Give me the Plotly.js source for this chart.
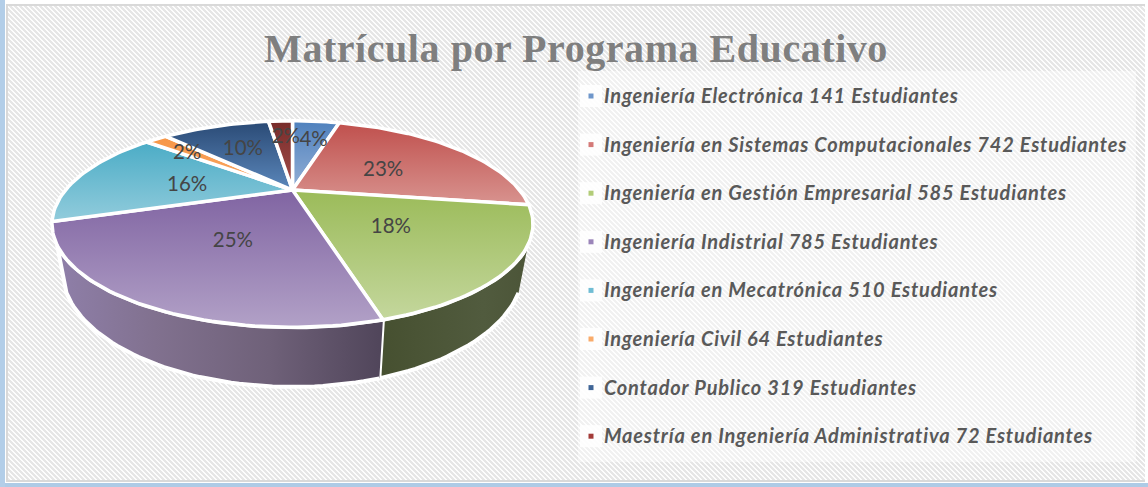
<!DOCTYPE html>
<html lang="es">
<head>
<meta charset="utf-8">
<script src="https://cdn.plot.ly/plotly-3.0.1.min.js"></script>
<style>
html,body{margin:0;padding:0;width:1148px;height:487px;overflow:hidden;background:#fff}
#frame{position:absolute;left:0;top:0;width:1148px;height:487px;
  background:linear-gradient(to right,#b3cee8 0,#b3cee8 5px,transparent 5px),linear-gradient(to top,#aecbe6 0,#aecbe6 4px,transparent 4px),#fff}
#hatch{position:absolute;left:6px;top:4px;width:1139px;height:478px;box-sizing:border-box;
  border-top:2px solid #d9d9d9;border-left:2px solid #d9d9d9;border-bottom:2px solid #d9d9d9;
  background:repeating-linear-gradient(45deg,#e6e6e6 0,#e6e6e6 1.77px,#fdfdfd 1.77px,#fdfdfd 3.5355px)}
#chart{position:absolute;left:0;top:0;width:1148px;height:487px}
#chart .gtitle{letter-spacing:0.55px}
#chart .scatterlayer .trace:last-child .textpoint text{letter-spacing:0.8px}
</style>
</head>
<body>
<div id="frame"></div><div id="hatch"></div><div id="chart"></div>
<script>
const titleText = 'Matrícula por Programa Educativo';
const programs = ['Ingeniería Electrónica','Ingeniería en Sistemas Computacionales','Ingeniería en Gestión Empresarial','Ingeniería Indistrial','Ingeniería en Mecatrónica','Ingeniería Civil','Contador Publico','Maestría en Ingeniería Administrativa'];
const students = [141,742,585,785,510,64,319,72];
const percentLabels = ['4%','23%','18%','25%','16%','2%','10%','2%'];
const sliceDark  = ['#4f81bd','#c0504d','#9bbb59','#8064a2','#4bacc6','#f79646','#2a4a75','#772c2a'];
const sliceLight = ['#93afd6','#d8938f','#c4d79d','#b2a1c7','#92ccdc','#f9a866','#5b87bb','#a64e4b'];
const legendColors = ['#6f97cb','#d47a78','#b2cc78','#9b85b9','#70bdd4','#f9ab6a','#3f6596','#a33b38'];

/* perspective pie geometry (pixel scale on hidden axes) */
const hubX=292.5, hubY=190, radX=227, radY=92, tilt=0.33, depth=40, shrink=0.96;
function rim(theta, r, low){
  const t=theta*Math.PI/180, a=r*Math.sin(t), b=r*Math.cos(t), w=1+tilt*b;
  const x=radX*a/w, y=-radY*b/w;
  return low ? [hubX+x*shrink, hubY+y+depth/w] : [hubX+x, hubY+y];
}
function arc(t0,t1,low){
  const pts=[], n=Math.max(2,Math.ceil(Math.abs(t1-t0)/1.5));
  for(let i=0;i<=n;i++) pts.push(rim(t0+(t1-t0)*i/n,1,low));
  return pts;
}
const total=students.reduce((s,v)=>s+v,0);
const edges=[0];
students.forEach(v=>edges.push(edges[edges.length-1]+v/total*360));

const traces=[];
function poly(pts,fillgradient,width){
  const xs=pts.map(p=>p[0]), ys=pts.map(p=>p[1]);
  const tr={type:'scatter',mode:'lines',x:xs,y:ys,fill:'toself',line:{color:'#ffffff',width:width,shape:'linear'},hoverinfo:'skip',showlegend:false};
  tr.fillgradient=Object.assign({},fillgradient);
  if(fillgradient.type==='vertical'){tr.fillgradient.start=Math.min(...ys);tr.fillgradient.stop=Math.max(...ys);}
  if(fillgradient.type==='horizontal'){tr.fillgradient.start=Math.min(...xs);tr.fillgradient.stop=Math.max(...xs);}
  return tr;
}
/* side walls */
const wallStartR=120, wallEndL=240;
const boundary=edges[3];
traces.push(poly(arc(wallStartR,boundary,false).concat(arc(boundary,wallStartR,true)),
  {type:'horizontal',colorscale:[[0,'#465030'],[0.7,'#515b3e'],[1,'#4c5538']]},4));
traces.push(poly(arc(boundary,wallEndL,false).concat(arc(wallEndL,boundary,true)),
  {type:'horizontal',colorscale:[[0,'#8f7fa9'],[0.3,'#81718f'],[0.65,'#6f6179'],[1,'#50455a']]},4));
/* top face */
students.forEach((v,i)=>{
  const pts=[[hubX,hubY]].concat(arc(edges[i],edges[i+1],false)); pts.push([hubX,hubY]);
  traces.push(poly(pts,{type:'vertical',colorscale:[[0,sliceDark[i]],[1,sliceLight[i]]]},3.5));
});
/* percentage labels */
const labelDx=3, labelDy=4;
const reach=students.map(v=>v/total<0.03?0.76:(v/total<0.05?0.72:(v/total<0.11?0.63:0.5)));
const mids=students.map((v,i)=>(edges[i]+edges[i+1])/2);
const lab=mids.map((m,i)=>rim(m,reach[i],false));
traces.push({type:'scatter',mode:'text',x:lab.map(p=>p[0]+labelDx),y:lab.map(p=>p[1]+labelDy),text:percentLabels,
  textposition:'middle center',textfont:{family:'Lato, sans-serif',size:20.5,color:'#454545'},hoverinfo:'skip',showlegend:false});
/* key */
const keyX=591, keyTop=96, keyStep=48.6, keyTextGap=13, keyTextDy=2;
const keyY=programs.map((p,i)=>keyTop+i*keyStep);
traces.push({type:'scatter',mode:'markers',x:programs.map(()=>keyX),y:keyY,
  marker:{symbol:'square',size:22,color:'#ffffff',opacity:0.85},hoverinfo:'skip',showlegend:false});
traces.push({type:'scatter',mode:'markers',x:programs.map(()=>keyX),y:keyY,
  marker:{symbol:'square',size:5,color:legendColors},hoverinfo:'skip',showlegend:false});
traces.push({type:'scatter',mode:'text',x:programs.map(()=>keyX+keyTextGap),y:keyY.map(v=>v+keyTextDy),
  text:programs.map((p,i)=>p+' '+students[i]+' Estudiantes'),textposition:'middle right',
  textfont:{family:'Lato, sans-serif',size:20,color:'#595959',weight:700,style:'italic'},
  hoverinfo:'skip',showlegend:false});

const layout={
  width:1148,height:487,margin:{l:0,r:0,t:0,b:0},
  paper_bgcolor:'rgba(0,0,0,0)',plot_bgcolor:'rgba(0,0,0,0)',showlegend:false,
  title:{text:'<b>'+titleText+'</b>',x:576/1148,xanchor:'center',y:1-48/487,yanchor:'middle',
    font:{family:'"Liberation Serif", serif',size:40,color:'#7f7f7f'}},
  xaxis:{range:[0,1148],visible:false,fixedrange:true},
  yaxis:{range:[487,0],visible:false,fixedrange:true},
  shapes:[{type:'rect',xref:'x',yref:'y',x0:578,x1:1136,y0:71,y1:462,line:{width:0},fillcolor:'rgba(255,255,255,0.45)',layer:'below'}]
};
Plotly.newPlot('chart',traces,layout,{displayModeBar:false,staticPlot:true});
</script>
</body>
</html>
